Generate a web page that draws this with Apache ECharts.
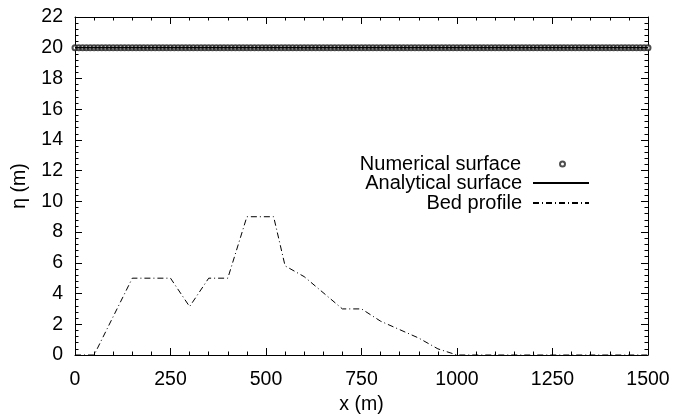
<!DOCTYPE html>
<html>
<head>
<meta charset="utf-8">
<script src="https://cdn.jsdelivr.net/npm/echarts@6/dist/echarts.min.js"></script>
<style>html,body{margin:0;padding:0;background:#fff;}#c{width:674px;height:420px;}</style>
</head>
<body>
<div id="c"></div>
<script>
// Bed profile (x, eta)
var bedX = [0, 50, 150, 250, 300, 350, 400, 450, 520, 550, 600, 700, 750, 800, 900, 950, 1000, 1500];
var bedY = [0, 0, 5, 5, 3.15, 5, 5, 9, 9, 5.8, 5.1, 3.0, 3.0, 2.2, 1.1, 0.4, 0, 0];
// Analytical surface
var anaX = [0, 1500];
var anaY = [20, 20];
// Numerical surface sample points
var numX = [0,10,20,30,40,50,60,70,80,90,100,110,120,130,140,150,160,170,180,190,200,210,220,230,240,250,260,270,280,290,300,310,320,330,340,350,360,370,380,390,400,410,420,430,440,450,460,470,480,490,500,510,520,530,540,550,560,570,580,590,600,610,620,630,640,650,660,670,680,690,700,710,720,730,740,750,760,770,780,790,800,810,820,830,840,850,860,870,880,890,900,910,920,930,940,950,960,970,980,990,1000,1010,1020,1030,1040,1050,1060,1070,1080,1090,1100,1110,1120,1130,1140,1150,1160,1170,1180,1190,1200,1210,1220,1230,1240,1250,1260,1270,1280,1290,1300,1310,1320,1330,1340,1350,1360,1370,1380,1390,1400,1410,1420,1430,1440,1450,1460,1470,1480,1490,1500];
var numLevel = 20;

function pairs(xs, ys) { return xs.map(function (x, i) { return [x, ys[i]]; }); }
var numData = numX.map(function (x) { return [x, numLevel]; });

var FONT = 'Liberation Sans, Arial, sans-serif';
var chart = echarts.init(document.getElementById('c'));
function mkAxis(extra) {
  var base = {
    type: 'value',
    axisLine: { show: true, onZero: false, lineStyle: { color: '#000', width: 1 } },
    splitLine: { show: false },
    axisTick: { show: true, inside: true, length: 7, lineStyle: { color: '#000' } },
    minorTick: { show: true, splitNumber: 5, length: 3.5, lineStyle: { color: '#000' } }
  };
  return Object.assign(base, extra);
}
function legendAt(name, top, right, w, h, gap) {
  return {
    data: [name], right: right, top: top, align: 'right', orient: 'vertical',
    itemWidth: w, itemHeight: h, itemGap: 0, padding: 0, selectedMode: false,
    textStyle: { fontFamily: FONT, fontSize: 20, color: '#000', padding: [0, gap, 0, 0] }
  };
}
chart.setOption({
  animation: false,
  backgroundColor: '#fff',
  grid: { left: 75, right: 26, top: 17, bottom: 65 },
  legend: [
    legendAt('Numerical surface', 154, 108, 5, 5, 34),
    legendAt('Analytical surface', 173, 84, 56, 2, 6),
    legendAt('Bed profile', 193, 84, 56, 2, 6)
  ],
  xAxis: [
    mkAxis({
      min: 0, max: 1500, interval: 250,
      name: 'x (m)', nameLocation: 'middle', nameGap: 33,
      nameTextStyle: { fontFamily: FONT, fontSize: 19.5, color: '#000' },
      axisLabel: { fontFamily: FONT, fontSize: 19.5, color: '#000', margin: 15, formatter: function (v) { return String(v); } }
    }),
    mkAxis({ position: 'top', min: 0, max: 1500, interval: 250, axisLabel: { show: false } })
  ],
  yAxis: [
    mkAxis({
      min: 0, max: 22, interval: 2,
      name: 'η (m)', nameLocation: 'middle', nameGap: 45, nameRotate: 90,
      nameTextStyle: { fontFamily: FONT, fontSize: 19.5, color: '#000' },
      axisLabel: { fontFamily: FONT, fontSize: 19.5, color: '#000', margin: 12 }
    }),
    mkAxis({ position: 'right', min: 0, max: 22, interval: 2, axisLabel: { show: false } })
  ],
  series: [
    {
      name: 'Numerical surface', type: 'scatter', data: numData,
      symbol: 'emptyCircle', symbolSize: 5,
      itemStyle: { color: '#222', borderWidth: 1 }, z: 3
    },
    {
      name: 'Analytical surface', type: 'line', data: pairs(anaX, anaY),
      symbol: 'none', lineStyle: { color: '#000', width: 1.5 }, itemStyle: { color: '#000' }, z: 4
    },
    {
      name: 'Bed profile', type: 'line', data: pairs(bedX, bedY),
      symbol: 'none', lineStyle: { color: '#000', width: 1, type: [6, 3, 1, 3] }, itemStyle: { color: '#000' }, z: 2
    }
  ]
});
</script>
</body>
</html>
